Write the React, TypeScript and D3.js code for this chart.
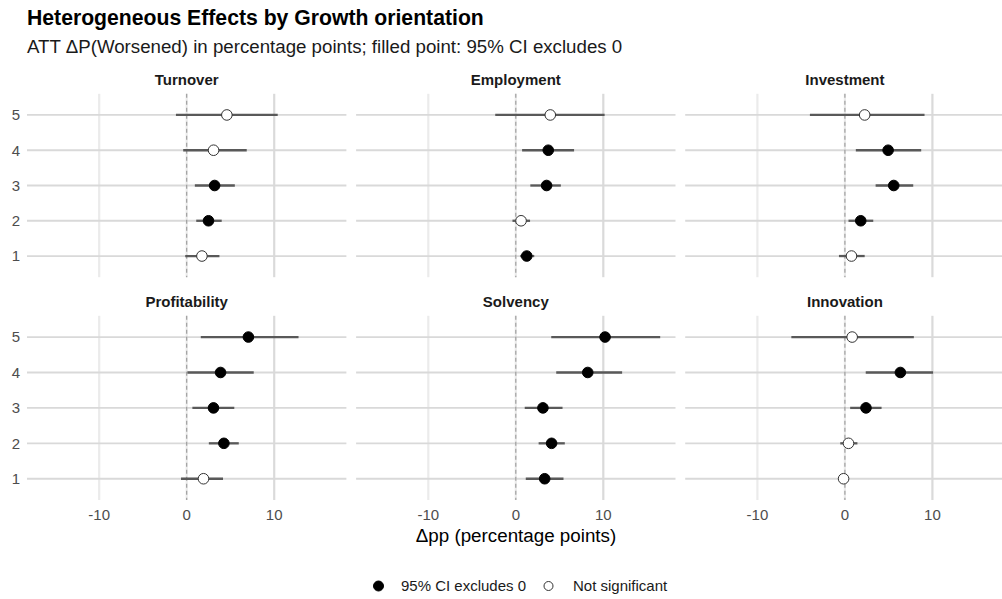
import React from "react";
import * as d3 from "d3";

// growth orientation groups (y axis)
const groups = ["1", "2", "3", "4", "5"];
const panels = ["Turnover", "Employment", "Investment", "Profitability", "Solvency", "Innovation"];

// ATT estimates and 95% CI, one array per outcome, ordered by group 1..5
const turnoverEst = [1.74, 2.49, 3.19, 3.07, 4.59];
const turnoverLo = [-0.17, 1.09, 0.93, -0.4, -1.23];
const turnoverHi = [3.74, 4.0, 5.5, 6.86, 10.4];

const employmentEst = [1.25, 0.6, 3.52, 3.71, 3.94];
const employmentLo = [0.49, -0.38, 1.66, 0.72, -2.35];
const employmentHi = [2.11, 1.63, 5.15, 6.66, 10.15];

const investmentEst = [0.75, 1.81, 5.58, 4.94, 2.26];
const investmentLo = [-0.68, 0.41, 3.51, 1.25, -4.0];
const investmentHi = [2.26, 3.24, 7.81, 8.72, 9.1];

const profitabilityEst = [1.92, 4.25, 3.06, 3.87, 7.05];
const profitabilityLo = [-0.65, 2.53, 0.65, 0.08, 1.61];
const profitabilityHi = [4.15, 5.95, 5.44, 7.66, 12.78];

const solvencyEst = [3.3, 4.09, 3.1, 8.22, 10.2];
const solvencyLo = [1.14, 2.61, 1.02, 4.62, 4.05];
const solvencyHi = [5.45, 5.6, 5.34, 12.15, 16.5];

const innovationEst = [-0.15, 0.41, 2.41, 6.34, 0.83];
const innovationLo = [-0.79, -0.53, 0.6, 2.38, -6.12];
const innovationHi = [0.41, 1.43, 4.19, 10.08, 7.88];

const xTicks = [-10, 0, 10];

const panelData = [
  { est: turnoverEst, lo: turnoverLo, hi: turnoverHi },
  { est: employmentEst, lo: employmentLo, hi: employmentHi },
  { est: investmentEst, lo: investmentLo, hi: investmentHi },
  { est: profitabilityEst, lo: profitabilityLo, hi: profitabilityHi },
  { est: solvencyEst, lo: solvencyLo, hi: solvencyHi },
  { est: innovationEst, lo: innovationLo, hi: innovationHi },
];

const W = 1002;
const H = 599;
const font = "'Liberation Sans', Arial, Helvetica, sans-serif";
const panelW = 319.4;
const colX = [27, 356.1, 685.2];
const rowY = [[93.8, 277.2], [315.8, 500]];

function Panel({ idx }: { idx: number }) {
  const col = idx % 3;
  const row = Math.floor(idx / 3);
  const [top, bottom] = rowY[row];
  const left = colX[col];
  const x = d3.scaleLinear().domain([-18.25, 18.25]).range([left, left + panelW]);
  const y = d3.scalePoint<string>().domain(groups).range([bottom, top]).padding(0.6);
  const d = panelData[idx];
  return (
    <g>
      {/* vertical grid */}
      {xTicks.map((t) => (
        <line key={"v" + t} x1={x(t)} x2={x(t)} y1={top} y2={bottom}
          stroke={t === 10 ? "#dadada" : "#ebebeb"} strokeWidth={2.2} />
      ))}
      {/* horizontal grid */}
      {groups.map((g) => (
        <line key={"h" + g} x1={left} x2={left + panelW} y1={y(g)} y2={y(g)}
          stroke="#d9d9d9" strokeWidth={1.8} />
      ))}
      {/* zero reference */}
      <line x1={x(0)} x2={x(0)} y1={top} y2={bottom} stroke="#9a9a9a" strokeWidth={1.1} strokeDasharray="4,3" />
      {/* CI segments */}
      {groups.map((g, i) => (
        <line key={"ci" + g} x1={x(d.lo[i])} x2={x(d.hi[i])} y1={y(g)} y2={y(g)}
          stroke="#595959" strokeWidth={2.3} />
      ))}
      {/* point estimates */}
      {groups.map((g, i) => {
        const sig = d.lo[i] > 0 || d.hi[i] < 0;
        return (
          <circle key={"p" + g} cx={x(d.est[i])} cy={y(g)} r={5.3}
            fill={sig ? "#000" : "#fff"} stroke={sig ? "#000" : "#333"} strokeWidth={1} />
        );
      })}
      {/* strip label */}
      <text x={left + panelW / 2} y={top - 8.5} textAnchor="middle" fontFamily={font}
        fontWeight="bold" fontSize={15} fill="#1a1a1a">{panels[idx]}</text>
      {/* y tick labels on first column */}
      {col === 0 && groups.map((g) => (
        <text key={"yt" + g} x={20} y={y(g)! + 5.3} textAnchor="end" fontFamily={font}
          fontSize={15} fill="#4d4d4d">{g}</text>
      ))}
      {/* x tick labels on bottom row */}
      {row === 1 && xTicks.map((t) => (
        <text key={"xt" + t} x={x(t)} y={bottom + 19.5} textAnchor="middle" fontFamily={font}
          fontSize={15} fill="#4d4d4d">{t}</text>
      ))}
    </g>
  );
}

export default function App() {
  return (
    <svg width={W} height={H} style={{ position: "absolute", left: 0, top: 0, background: "#fff" }}>
      <rect width={W} height={H} fill="#fff" />
      <text x={27} y={24.5} fontFamily={font} fontWeight="bold" fontSize={21.2} fill="#000">
        Heterogeneous Effects by Growth orientation
      </text>
      <text x={27} y={52.5} fontFamily={font} fontSize={18.7} fill="#1a1a1a">
        ATT ΔP(Worsened) in percentage points; filled point: 95% CI excludes 0
      </text>
      {panels.map((p, i) => (
        <Panel key={p} idx={i} />
      ))}
      <text x={516} y={542} textAnchor="middle" fontFamily={font} fontSize={18.8} fill="#000">
        Δpp (percentage points)
      </text>
      {/* legend */}
      <circle cx={378.5} cy={586} r={5} fill="#000" stroke="#000" />
      <text x={401} y={591.3} fontFamily={font} fontSize={15} fill="#1a1a1a">95% CI excludes 0</text>
      <circle cx={548.5} cy={586} r={4.5} fill="#fff" stroke="#333" strokeWidth={1} />
      <text x={573} y={591.3} fontFamily={font} fontSize={15} fill="#1a1a1a">Not significant</text>
    </svg>
  );
}
